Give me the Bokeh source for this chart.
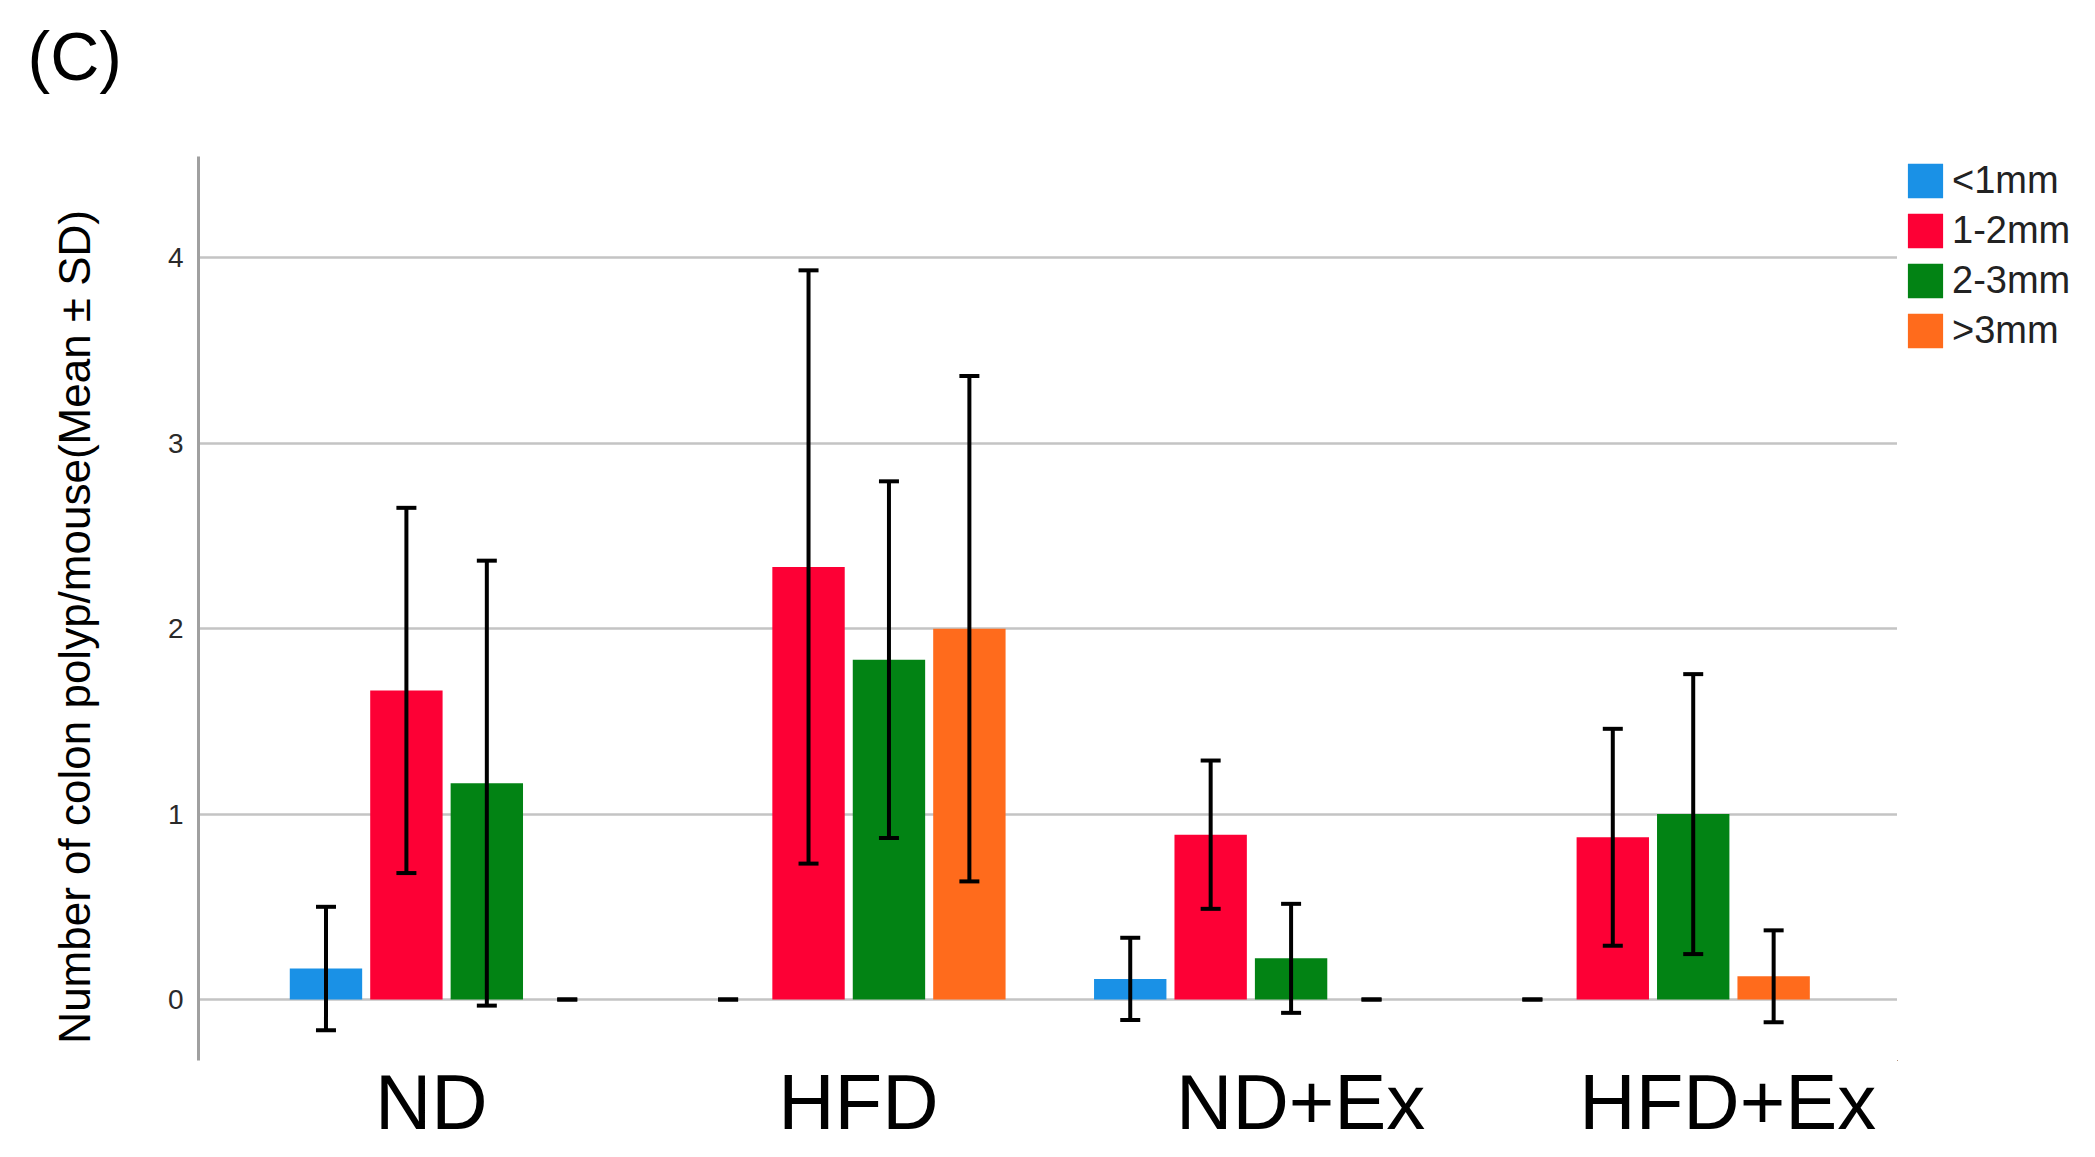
import numpy as np
from bokeh.plotting import figure
from bokeh.layouts import row
from bokeh.models import (ColumnDataSource, Range1d, FixedTicker, Whisker,
                          TeeHead, Legend, LegendItem, Title)
from bokeh.embed import file_html
from bokeh.resources import INLINE

# ---- data ----
groups = ["ND", "HFD", "ND+Ex", "HFD+Ex"]
sizes = ["<1mm", "1-2mm", "2-3mm", ">3mm"]
mean_lt1 = [0.167, 0.0, 0.111, 0.0]
sd_lt1 = [0.333, 0.0, 0.222, 0.0]
mean_1_2 = [1.667, 2.333, 0.889, 0.875]
sd_1_2 = [0.985, 1.600, 0.400, 0.585]
mean_2_3 = [1.167, 1.833, 0.222, 1.000]
sd_2_3 = [1.200, 0.962, 0.294, 0.755]
mean_gt3 = [0.0, 2.000, 0.0, 0.125]
sd_gt3 = [0.0, 1.363, 0.0, 0.248]
y_ticks = [0, 1, 2, 3, 4]

means = [mean_lt1, mean_1_2, mean_2_3, mean_gt3]
sds = [sd_lt1, sd_1_2, sd_2_3, sd_gt3]

# ---- style ----
colors = ["#1a91e6", "#fd0035", "#028314", "#ff6b1c"]
offsets = [-0.3, -0.1, 0.1, 0.3]
BAR_W = 0.18
label_shift = [-0.038, 0.024, 0.124, 0.186]   # where the group names sit

H = 1149
FL, FR, FT, FB = 198, 1897, 156, 1060          # frame edges in px
LEG_W = 182

p = figure(width=FR, height=H, output_backend="svg", toolbar_location=None,
           x_range=Range1d(-0.617, 3.608), y_range=Range1d(-0.329, 4.547),
           min_border_left=FL, min_border_right=0,
           min_border_top=FT, min_border_bottom=H - FB)
p.outline_line_color = None
p.background_fill_color = "white"
p.border_fill_color = "white"
p.title.text = ""

# panel letter (a blank title first, as a spacer next to the frame)
p.add_layout(Title(text="\u00a0", text_font="Liberation Sans",
                   text_font_size="40px", standoff=15), "above")
p.add_layout(Title(text="(C)", text_font="Liberation Sans",
                   text_font_size="68px", text_font_style="normal",
                   text_color="black", align="left", offset=-171,
                   vertical_align="top", standoff=0), "above")

# grid
p.xgrid.grid_line_color = None
p.ygrid.grid_line_color = "#c4c4c4"
p.ygrid.grid_line_width = 2.5
p.ygrid.ticker = FixedTicker(ticks=y_ticks)

# y axis
p.yaxis.ticker = FixedTicker(ticks=y_ticks)
p.yaxis.axis_line_color = "#a0a0a0"
p.yaxis.axis_line_width = 3
p.yaxis.major_tick_line_color = None
p.yaxis.minor_tick_line_color = None
p.yaxis.major_label_text_font = "Liberation Sans"
p.yaxis.major_label_text_font_size = "28px"
p.yaxis.major_label_text_color = "#2a2a2a"
p.yaxis.major_label_standoff = 9
p.yaxis.axis_label = "Number of colon polyp/mouse(Mean \u00b1 SD)\u00a0\u00a0\u00a0"
p.yaxis.axis_label_text_font = "Liberation Sans"
p.yaxis.axis_label_text_font_size = "44px"
p.yaxis.axis_label_text_font_style = "normal"
p.yaxis.axis_label_text_color = "black"
p.yaxis.axis_label_standoff = 66

# x axis
tick_pos = [i + s for i, s in enumerate(label_shift)]
p.xaxis.ticker = FixedTicker(ticks=tick_pos)
p.xaxis.major_label_overrides = {t: g for t, g in zip(tick_pos, groups)}
p.xaxis.axis_line_color = None
p.xaxis.major_tick_line_color = None
p.xaxis.minor_tick_line_color = None
p.xaxis.major_label_text_font = "Liberation Sans"
p.xaxis.major_label_text_font_size = "78px"
p.xaxis.major_label_text_color = "black"
p.xaxis.major_label_standoff = -9

sources = []
for m, s, c, off in zip(means, sds, colors, offsets):
    m = np.array(m)
    s = np.array(s)
    src = ColumnDataSource(dict(x=np.arange(len(groups)) + off, top=m,
                                upper=m + s, lower=m - s))
    sources.append(src)
    p.vbar(x="x", top="top", width=BAR_W, bottom=0, source=src,
           fill_color=c, line_color=None)
    wk = Whisker(base="x", upper="upper", lower="lower", source=src,
                 level="overlay", line_color="black", line_width=4,
                 upper_head=TeeHead(size=20, line_width=4, line_color="black"),
                 lower_head=TeeHead(size=20, line_width=4, line_color="black"))
    p.add_layout(wk)

# ---- legend panel to the right of the plot ----
# (its frame is aligned with the main frame: top 156, height 904);
# its ranges look far away from the data so only the legend shows.
q = figure(width=LEG_W, height=H, output_backend="svg", toolbar_location=None,
           x_range=Range1d(100, 101), y_range=Range1d(100, 101),
           x_axis_location=None, y_axis_location=None, min_border=0)
q.outline_line_color = None
q.xgrid.visible = False
q.ygrid.visible = False
q.title.text = ""

items = []
for name, c, src in zip(sizes, colors, sources):
    r = q.vbar(x="x", top="top", width=0, bottom=0, source=src,
               fill_color=c, line_color=None)
    items.append(LegendItem(label=name, renderers=[r]))

legend = Legend(items=items, location=(6, 708), margin=0, padding=0,
                glyph_width=44, glyph_height=43, label_height=44,
                spacing=6, label_standoff=5,
                label_text_font="Liberation Sans", label_text_font_size="38px",
                label_text_color="#222222",
                border_line_color=None, background_fill_alpha=0)
q.add_layout(legend)

open("out.html", "w").write(file_html(row(p, q), INLINE))
